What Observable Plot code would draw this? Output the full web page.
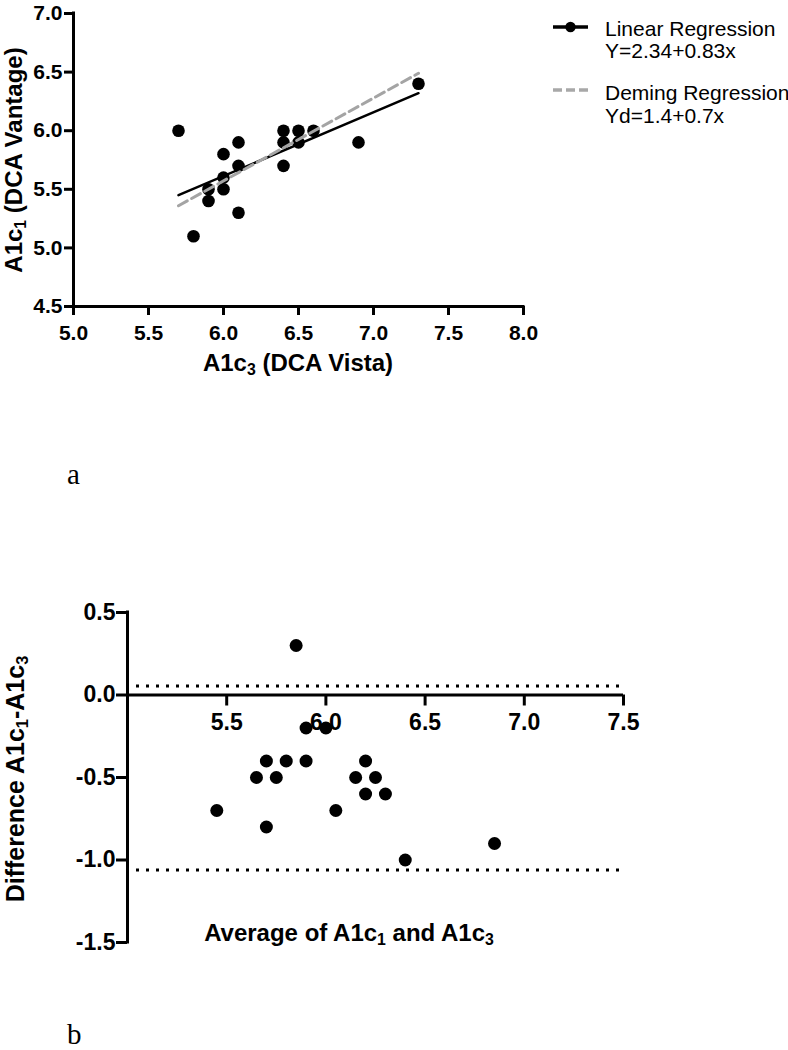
<!DOCTYPE html>
<html><head><meta charset="utf-8">
<script src="https://cdn.jsdelivr.net/npm/d3@7"></script>
<script src="https://cdn.jsdelivr.net/npm/@observablehq/plot@0.6"></script>
<style>
body{margin:0;background:#fff;}
#root{position:relative;width:788px;height:1050px;overflow:hidden;font-family:"Liberation Sans",Arial,sans-serif;color:#000;}
.abs{position:absolute;white-space:nowrap;line-height:1;}
.ttl{font-weight:bold;}
.sub{font-size:0.66em;position:relative;top:0.25em;}
.leg{font-size:21px;}
.lab{font-family:"Liberation Serif","Times New Roman",serif;font-size:29px;line-height:20px;}
</style>
</head><body>
<div id="root"></div>
<script>
// Panel a: A1c3 (DCA Vista) vs A1c1 (DCA Vantage)
const vista   = [5.7, 5.8, 5.9, 5.9, 6.0, 6.0, 6.0, 6.1, 6.1, 6.1, 6.4, 6.4, 6.4, 6.5, 6.5, 6.6, 6.9, 7.3];
const vantage = [6.0, 5.1, 5.5, 5.4, 5.8, 5.6, 5.5, 5.9, 5.7, 5.3, 6.0, 5.9, 5.7, 6.0, 5.9, 6.0, 5.9, 6.4];
const linearFitX = [5.7, 7.3];
const linearFitY = [5.45, 6.32];
const demingFitX = [5.7, 7.3];
const demingFitY = [5.36, 6.49];
const topXTicks = [5.0, 5.5, 6.0, 6.5, 7.0, 7.5, 8.0];
const topYTicks = [4.5, 5.0, 5.5, 6.0, 6.5, 7.0];
const legendLabels = ["Linear Regression", "Y=2.34+0.83x", "Deming Regression", "Yd=1.4+0.7x"];

// Panel b: Bland-Altman
const avgValues  = [5.85, 5.45, 5.7, 5.65, 5.9, 5.8, 5.75, 6.0, 5.9, 5.7, 6.2, 6.15, 6.05, 6.25, 6.2, 6.3, 6.4, 6.85];
const diffValues = [0.3, -0.7, -0.4, -0.5, -0.2, -0.4, -0.5, -0.2, -0.4, -0.8, -0.4, -0.5, -0.7, -0.5, -0.6, -0.6, -1.0, -0.9];
const loaLines = [0.055, -1.06];
const botXTicks = [5.5, 6.0, 6.5, 7.0, 7.5];
const botYTicks = [0.5, 0.0, -0.5, -1.0, -1.5];

const fmt = d => d.toFixed(1);
const root = document.getElementById("root");
function place(el, left, top) {
  const w = document.createElement("div");
  w.className = "abs";
  w.style.left = left + "px"; w.style.top = top + "px";
  w.appendChild(el);
  root.appendChild(w);
  return w;
}
function html(cls, inner, css) {
  const d = document.createElement("div");
  d.className = "abs " + cls;
  d.innerHTML = inner;
  Object.assign(d.style, css);
  root.appendChild(d);
  return d;
}
const FONT = "'Liberation Sans', Arial, sans-serif";

// ---- Top chart
const topPts = vista.map((x, i) => ({x, y: vantage[i]}));
const linFit = linearFitX.map((x, i) => ({x, y: linearFitY[i]}));
const demFit = demingFitX.map((x, i) => ({x, y: demingFitY[i]}));

const topPlot = Plot.plot({
  width: 560, height: 390,
  marginLeft: 73, marginRight: 37, marginTop: 13, marginBottom: 84,
  x: {domain: [5, 8]},
  y: {domain: [4.5, 7]},
  style: {fontFamily: FONT, fontSize: "21px", fontWeight: "bold", color: "#000", background: "transparent", overflow: "visible"},
  marks: [
    Plot.axisX({ticks: topXTicks, tickSize: 9, tickPadding: 10, strokeWidth: 3, tickFormat: fmt, label: null}),
    Plot.axisY({ticks: topYTicks, tickSize: 9, tickPadding: 2, strokeWidth: 3, tickFormat: fmt, label: null}),
    Plot.ruleX([5], {strokeWidth: 3, strokeLinecap: "square"}),
    Plot.ruleY([4.5], {strokeWidth: 3, strokeLinecap: "square"}),
    Plot.dot(topPts, {x: "x", y: "y", r: 6.3, fill: "black"}),
    Plot.line(linFit, {x: "x", y: "y", stroke: "black", strokeWidth: 2.5}),
    Plot.line(demFit, {x: "x", y: "y", stroke: "#a4a4a4", strokeWidth: 3, strokeDasharray: "10,5"})
  ]
});
place(topPlot, 0, 0);

html("ttl", "A1c<span class='sub'>1</span> (DCA Vantage)", {fontSize: "24px", left: "14px", top: "160px", transform: "translate(-50%,-50%) rotate(-90deg)"});
html("ttl", "A1c<span class='sub'>3</span> (DCA Vista)", {fontSize: "24px", left: "298px", top: "351px", transform: "translateX(-50%)"});

// legend
const legSvg = d3.create("svg").attr("width", 40).attr("height", 110);
legSvg.append("line").attr("x1", 0).attr("x2", 35).attr("y1", 27).attr("y2", 27).attr("stroke", "black").attr("stroke-width", 3.5);
legSvg.append("circle").attr("cx", 17.5).attr("cy", 27).attr("r", 5.2).attr("fill", "black");
legSvg.append("line").attr("x1", 0).attr("x2", 35).attr("y1", 90).attr("y2", 90).attr("stroke", "#a8a8a8").attr("stroke-width", 3.5).attr("stroke-dasharray", "9,4");
place(legSvg.node(), 553, 0);
const legTops = [18, 40, 82, 105];
legendLabels.forEach((t, i) => html("leg", t, {left: "605px", top: legTops[i] + "px"}));

html("lab", "a", {left: "67px", top: "464px"});

// ---- Bottom chart
const bPts = avgValues.map((x, i) => ({x, y: diffValues[i]}));
const botPlot = Plot.plot({
  width: 660, height: 380,
  marginLeft: 127, marginRight: 37, marginTop: 32, marginBottom: 18,
  x: {domain: [5, 7.5], axis: null},
  y: {domain: [-1.5, 0.5]},
  style: {fontFamily: FONT, fontSize: "23px", fontWeight: "bold", color: "#000", background: "transparent", overflow: "visible"},
  marks: [
    Plot.axisY({ticks: botYTicks, tickSize: 11, tickPadding: 1, strokeWidth: 3, tickFormat: fmt, label: null}),
    Plot.ruleY(loaLines, {strokeWidth: 3, strokeDasharray: "3,7", insetLeft: 9}),
    Plot.ruleX([5], {strokeWidth: 3, strokeLinecap: "square"}),
    Plot.ruleY([0], {strokeWidth: 3}),
    Plot.ruleX(botXTicks, {x: d => d, y1: () => 0, y2: () => 0, insetBottom: -11, strokeWidth: 3}),
    Plot.text(botXTicks, {x: d => d, y: () => 0, text: fmt, lineAnchor: "top", dy: 19}),
    Plot.dot(bPts, {x: "x", y: "y", r: 6.5, fill: "black"})
  ]
});
place(botPlot, 0, 580);

html("ttl", "Difference A1c<span class='sub'>1</span>-A1c<span class='sub'>3</span>", {fontSize: "25px", left: "15px", top: "779px", transform: "translate(-50%,-50%) rotate(-90deg)"});
html("ttl", "Average of A1c<span class='sub'>1</span> and A1c<span class='sub'>3</span>", {fontSize: "24px", left: "349px", top: "921px", transform: "translateX(-50%)"});

html("lab", "b", {left: "67px", top: "1024px"});
</script>
</body></html>
